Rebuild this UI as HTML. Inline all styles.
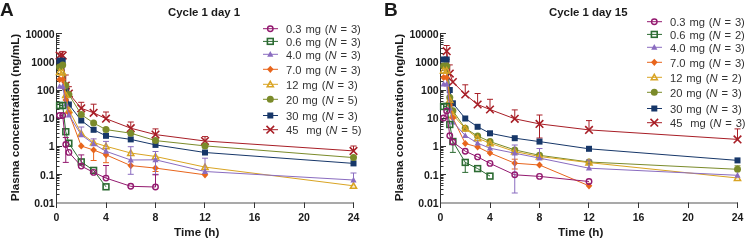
<!DOCTYPE html>
<html><head><meta charset="utf-8"><style>html,body{margin:0;padding:0;background:#fff;width:745px;height:241px;overflow:hidden}</style></head>
<body><svg width="745" height="241" viewBox="0 0 745 241" style="will-change:transform;font-family:'Liberation Sans',sans-serif;display:block"><rect width="745" height="241" fill="#fff"/><g fill="#1a1a1a"><text x="0" y="15.8" style="font-weight:bold;font-size:19px">A</text><text x="384" y="15.8" style="font-weight:bold;font-size:19px">B</text><path d="M56.5,33 V208" stroke="#333" stroke-width="1" fill="none"/><path d="M56.5,203 H354.00" stroke="#555" stroke-width="1.2" fill="none"/><path d="M56.5,194.50 H59.5" stroke="#333" stroke-width="1"/><path d="M56.5,189.50 H59.5" stroke="#333" stroke-width="1"/><path d="M56.5,185.50 H59.5" stroke="#333" stroke-width="1"/><path d="M56.5,183.50 H59.5" stroke="#333" stroke-width="1"/><path d="M56.5,180.50 H59.5" stroke="#333" stroke-width="1"/><path d="M56.5,178.50 H59.5" stroke="#333" stroke-width="1"/><path d="M56.5,177.50 H59.5" stroke="#333" stroke-width="1"/><path d="M56.5,175.50 H59.5" stroke="#333" stroke-width="1"/><text x="54.6" y="206.80" text-anchor="end" style="font-weight:bold;font-size:10.5px">0.01</text><path d="M56.5,174.50 H62.0" stroke="#333" stroke-width="1"/><path d="M56.5,166.50 H59.5" stroke="#333" stroke-width="1"/><path d="M56.5,161.50 H59.5" stroke="#333" stroke-width="1"/><path d="M56.5,157.50 H59.5" stroke="#333" stroke-width="1"/><path d="M56.5,154.50 H59.5" stroke="#333" stroke-width="1"/><path d="M56.5,152.50 H59.5" stroke="#333" stroke-width="1"/><path d="M56.5,150.50 H59.5" stroke="#333" stroke-width="1"/><path d="M56.5,149.50 H59.5" stroke="#333" stroke-width="1"/><path d="M56.5,147.50 H59.5" stroke="#333" stroke-width="1"/><text x="54.6" y="178.63" text-anchor="end" style="font-weight:bold;font-size:10.5px">0.1</text><path d="M56.5,146.50 H62.0" stroke="#333" stroke-width="1"/><path d="M56.5,137.50 H59.5" stroke="#333" stroke-width="1"/><path d="M56.5,133.50 H59.5" stroke="#333" stroke-width="1"/><path d="M56.5,129.50 H59.5" stroke="#333" stroke-width="1"/><path d="M56.5,126.50 H59.5" stroke="#333" stroke-width="1"/><path d="M56.5,124.50 H59.5" stroke="#333" stroke-width="1"/><path d="M56.5,122.50 H59.5" stroke="#333" stroke-width="1"/><path d="M56.5,121.50 H59.5" stroke="#333" stroke-width="1"/><path d="M56.5,119.50 H59.5" stroke="#333" stroke-width="1"/><text x="54.6" y="150.46" text-anchor="end" style="font-weight:bold;font-size:10.5px">1</text><path d="M56.5,118.50 H62.0" stroke="#333" stroke-width="1"/><path d="M56.5,109.50 H59.5" stroke="#333" stroke-width="1"/><path d="M56.5,104.50 H59.5" stroke="#333" stroke-width="1"/><path d="M56.5,101.50 H59.5" stroke="#333" stroke-width="1"/><path d="M56.5,98.50 H59.5" stroke="#333" stroke-width="1"/><path d="M56.5,96.50 H59.5" stroke="#333" stroke-width="1"/><path d="M56.5,94.50 H59.5" stroke="#333" stroke-width="1"/><path d="M56.5,92.50 H59.5" stroke="#333" stroke-width="1"/><path d="M56.5,91.50 H59.5" stroke="#333" stroke-width="1"/><text x="54.6" y="122.29" text-anchor="end" style="font-weight:bold;font-size:10.5px">10</text><path d="M56.5,90.50 H62.0" stroke="#333" stroke-width="1"/><path d="M56.5,81.50 H59.5" stroke="#333" stroke-width="1"/><path d="M56.5,76.50 H59.5" stroke="#333" stroke-width="1"/><path d="M56.5,73.50 H59.5" stroke="#333" stroke-width="1"/><path d="M56.5,70.50 H59.5" stroke="#333" stroke-width="1"/><path d="M56.5,68.50 H59.5" stroke="#333" stroke-width="1"/><path d="M56.5,66.50 H59.5" stroke="#333" stroke-width="1"/><path d="M56.5,64.50 H59.5" stroke="#333" stroke-width="1"/><path d="M56.5,63.50 H59.5" stroke="#333" stroke-width="1"/><text x="54.6" y="94.12" text-anchor="end" style="font-weight:bold;font-size:10.5px">100</text><path d="M56.5,61.50 H62.0" stroke="#333" stroke-width="1"/><path d="M56.5,53.50 H59.5" stroke="#333" stroke-width="1"/><path d="M56.5,48.50 H59.5" stroke="#333" stroke-width="1"/><path d="M56.5,44.50 H59.5" stroke="#333" stroke-width="1"/><path d="M56.5,42.50 H59.5" stroke="#333" stroke-width="1"/><path d="M56.5,40.50 H59.5" stroke="#333" stroke-width="1"/><path d="M56.5,38.50 H59.5" stroke="#333" stroke-width="1"/><path d="M56.5,36.50 H59.5" stroke="#333" stroke-width="1"/><path d="M56.5,35.50 H59.5" stroke="#333" stroke-width="1"/><text x="54.6" y="65.95" text-anchor="end" style="font-weight:bold;font-size:10.5px">1000</text><path d="M56.5,33.50 H62.0" stroke="#333" stroke-width="1"/><text x="54.6" y="37.78" text-anchor="end" style="font-weight:bold;font-size:10.5px">10000</text><path d="M56.50,202.5 V208" stroke="#333" stroke-width="1"/><text x="56.50" y="220.8" text-anchor="middle" style="font-weight:bold;font-size:10.5px">0</text><path d="M106.50,202.5 V208" stroke="#333" stroke-width="1"/><text x="106.00" y="220.8" text-anchor="middle" style="font-weight:bold;font-size:10.5px">4</text><path d="M155.50,202.5 V208" stroke="#333" stroke-width="1"/><text x="155.50" y="220.8" text-anchor="middle" style="font-weight:bold;font-size:10.5px">8</text><path d="M204.50,202.5 V208" stroke="#333" stroke-width="1"/><text x="205.00" y="220.8" text-anchor="middle" style="font-weight:bold;font-size:10.5px">12</text><path d="M254.50,202.5 V208" stroke="#333" stroke-width="1"/><text x="254.50" y="220.8" text-anchor="middle" style="font-weight:bold;font-size:10.5px">16</text><path d="M304.50,202.5 V208" stroke="#333" stroke-width="1"/><text x="304.00" y="220.8" text-anchor="middle" style="font-weight:bold;font-size:10.5px">20</text><path d="M353.50,202.5 V208" stroke="#333" stroke-width="1"/><text x="353.50" y="220.8" text-anchor="middle" style="font-weight:bold;font-size:10.5px">24</text><text x="196.7" y="236.3" text-anchor="middle" style="font-weight:bold;font-size:11.7px">Time (h)</text><text transform="translate(19.0,117.6) rotate(-90)" text-anchor="middle" style="font-weight:bold;font-size:11.7px">Plasma concentration (ng/mL)</text><text x="168" y="15.6" style="font-weight:bold;font-size:11.4px">Cycle 1 day 1</text><path d="M440.5,33 V208" stroke="#333" stroke-width="1" fill="none"/><path d="M440.5,203 H738.00" stroke="#555" stroke-width="1.2" fill="none"/><path d="M440.5,194.50 H443.5" stroke="#333" stroke-width="1"/><path d="M440.5,189.50 H443.5" stroke="#333" stroke-width="1"/><path d="M440.5,185.50 H443.5" stroke="#333" stroke-width="1"/><path d="M440.5,183.50 H443.5" stroke="#333" stroke-width="1"/><path d="M440.5,180.50 H443.5" stroke="#333" stroke-width="1"/><path d="M440.5,178.50 H443.5" stroke="#333" stroke-width="1"/><path d="M440.5,177.50 H443.5" stroke="#333" stroke-width="1"/><path d="M440.5,175.50 H443.5" stroke="#333" stroke-width="1"/><text x="438.6" y="206.80" text-anchor="end" style="font-weight:bold;font-size:10.5px">0.01</text><path d="M440.5,174.50 H446.0" stroke="#333" stroke-width="1"/><path d="M440.5,166.50 H443.5" stroke="#333" stroke-width="1"/><path d="M440.5,161.50 H443.5" stroke="#333" stroke-width="1"/><path d="M440.5,157.50 H443.5" stroke="#333" stroke-width="1"/><path d="M440.5,154.50 H443.5" stroke="#333" stroke-width="1"/><path d="M440.5,152.50 H443.5" stroke="#333" stroke-width="1"/><path d="M440.5,150.50 H443.5" stroke="#333" stroke-width="1"/><path d="M440.5,149.50 H443.5" stroke="#333" stroke-width="1"/><path d="M440.5,147.50 H443.5" stroke="#333" stroke-width="1"/><text x="438.6" y="178.63" text-anchor="end" style="font-weight:bold;font-size:10.5px">0.1</text><path d="M440.5,146.50 H446.0" stroke="#333" stroke-width="1"/><path d="M440.5,137.50 H443.5" stroke="#333" stroke-width="1"/><path d="M440.5,133.50 H443.5" stroke="#333" stroke-width="1"/><path d="M440.5,129.50 H443.5" stroke="#333" stroke-width="1"/><path d="M440.5,126.50 H443.5" stroke="#333" stroke-width="1"/><path d="M440.5,124.50 H443.5" stroke="#333" stroke-width="1"/><path d="M440.5,122.50 H443.5" stroke="#333" stroke-width="1"/><path d="M440.5,121.50 H443.5" stroke="#333" stroke-width="1"/><path d="M440.5,119.50 H443.5" stroke="#333" stroke-width="1"/><text x="438.6" y="150.46" text-anchor="end" style="font-weight:bold;font-size:10.5px">1</text><path d="M440.5,118.50 H446.0" stroke="#333" stroke-width="1"/><path d="M440.5,109.50 H443.5" stroke="#333" stroke-width="1"/><path d="M440.5,104.50 H443.5" stroke="#333" stroke-width="1"/><path d="M440.5,101.50 H443.5" stroke="#333" stroke-width="1"/><path d="M440.5,98.50 H443.5" stroke="#333" stroke-width="1"/><path d="M440.5,96.50 H443.5" stroke="#333" stroke-width="1"/><path d="M440.5,94.50 H443.5" stroke="#333" stroke-width="1"/><path d="M440.5,92.50 H443.5" stroke="#333" stroke-width="1"/><path d="M440.5,91.50 H443.5" stroke="#333" stroke-width="1"/><text x="438.6" y="122.29" text-anchor="end" style="font-weight:bold;font-size:10.5px">10</text><path d="M440.5,90.50 H446.0" stroke="#333" stroke-width="1"/><path d="M440.5,81.50 H443.5" stroke="#333" stroke-width="1"/><path d="M440.5,76.50 H443.5" stroke="#333" stroke-width="1"/><path d="M440.5,73.50 H443.5" stroke="#333" stroke-width="1"/><path d="M440.5,70.50 H443.5" stroke="#333" stroke-width="1"/><path d="M440.5,68.50 H443.5" stroke="#333" stroke-width="1"/><path d="M440.5,66.50 H443.5" stroke="#333" stroke-width="1"/><path d="M440.5,64.50 H443.5" stroke="#333" stroke-width="1"/><path d="M440.5,63.50 H443.5" stroke="#333" stroke-width="1"/><text x="438.6" y="94.12" text-anchor="end" style="font-weight:bold;font-size:10.5px">100</text><path d="M440.5,61.50 H446.0" stroke="#333" stroke-width="1"/><path d="M440.5,53.50 H443.5" stroke="#333" stroke-width="1"/><path d="M440.5,48.50 H443.5" stroke="#333" stroke-width="1"/><path d="M440.5,44.50 H443.5" stroke="#333" stroke-width="1"/><path d="M440.5,42.50 H443.5" stroke="#333" stroke-width="1"/><path d="M440.5,40.50 H443.5" stroke="#333" stroke-width="1"/><path d="M440.5,38.50 H443.5" stroke="#333" stroke-width="1"/><path d="M440.5,36.50 H443.5" stroke="#333" stroke-width="1"/><path d="M440.5,35.50 H443.5" stroke="#333" stroke-width="1"/><text x="438.6" y="65.95" text-anchor="end" style="font-weight:bold;font-size:10.5px">1000</text><path d="M440.5,33.50 H446.0" stroke="#333" stroke-width="1"/><text x="438.6" y="37.78" text-anchor="end" style="font-weight:bold;font-size:10.5px">10000</text><path d="M440.50,202.5 V208" stroke="#333" stroke-width="1"/><text x="440.50" y="220.8" text-anchor="middle" style="font-weight:bold;font-size:10.5px">0</text><path d="M490.50,202.5 V208" stroke="#333" stroke-width="1"/><text x="490.00" y="220.8" text-anchor="middle" style="font-weight:bold;font-size:10.5px">4</text><path d="M539.50,202.5 V208" stroke="#333" stroke-width="1"/><text x="539.50" y="220.8" text-anchor="middle" style="font-weight:bold;font-size:10.5px">8</text><path d="M588.50,202.5 V208" stroke="#333" stroke-width="1"/><text x="589.00" y="220.8" text-anchor="middle" style="font-weight:bold;font-size:10.5px">12</text><path d="M638.50,202.5 V208" stroke="#333" stroke-width="1"/><text x="638.50" y="220.8" text-anchor="middle" style="font-weight:bold;font-size:10.5px">16</text><path d="M688.50,202.5 V208" stroke="#333" stroke-width="1"/><text x="688.00" y="220.8" text-anchor="middle" style="font-weight:bold;font-size:10.5px">20</text><path d="M737.50,202.5 V208" stroke="#333" stroke-width="1"/><text x="737.50" y="220.8" text-anchor="middle" style="font-weight:bold;font-size:10.5px">24</text><text x="580.7" y="236.3" text-anchor="middle" style="font-weight:bold;font-size:11.7px">Time (h)</text><text transform="translate(403.0,117.6) rotate(-90)" text-anchor="middle" style="font-weight:bold;font-size:11.7px">Plasma concentration (ng/mL)</text><text x="549" y="15.6" style="font-weight:bold;font-size:11.4px">Cycle 1 day 15</text></g><path d="M59.59,55.60 L62.69,55.60 L65.78,85.50 L68.88,93.50 L81.25,108.30 L93.62,112.80 L106.00,118.70 L130.75,128.20 L155.50,134.60 L205.00,141.00 L353.50,150.90" stroke="#a81e26" stroke-width="1" fill="none"/><path d="M62.69,55.60 V51.40 M59.69,51.40 H65.69" stroke="#a81e26" stroke-width="1" fill="none"/><path d="M65.78,85.50 V75.00 M62.78,75.00 H68.78" stroke="#a81e26" stroke-width="1" fill="none"/><path d="M68.88,93.50 V86.70 M65.88,86.70 H71.88" stroke="#a81e26" stroke-width="1" fill="none"/><path d="M81.25,108.30 V102.30 M78.25,102.30 H84.25" stroke="#a81e26" stroke-width="1" fill="none"/><path d="M93.62,112.80 V104.20 M90.62,104.20 H96.62" stroke="#a81e26" stroke-width="1" fill="none"/><path d="M106.00,118.70 V112.00 M103.00,112.00 H109.00" stroke="#a81e26" stroke-width="1" fill="none"/><path d="M130.75,128.20 V122.00 M127.75,122.00 H133.75" stroke="#a81e26" stroke-width="1" fill="none"/><path d="M155.50,134.60 V128.90 M152.50,128.90 H158.50" stroke="#a81e26" stroke-width="1" fill="none"/><path d="M205.00,141.00 V136.60 M202.00,136.60 H208.00" stroke="#a81e26" stroke-width="1" fill="none"/><path d="M353.50,150.90 V146.00 M350.50,146.00 H356.50" stroke="#a81e26" stroke-width="1" fill="none"/><path d="M55.79,51.80L63.39,59.40M63.39,51.80L55.79,59.40" stroke="#a81e26" stroke-width="1.6" fill="none"/><path d="M58.89,51.80L66.49,59.40M66.49,51.80L58.89,59.40" stroke="#a81e26" stroke-width="1.6" fill="none"/><path d="M61.98,81.70L69.58,89.30M69.58,81.70L61.98,89.30" stroke="#a81e26" stroke-width="1.6" fill="none"/><path d="M65.08,89.70L72.67,97.30M72.67,89.70L65.08,97.30" stroke="#a81e26" stroke-width="1.6" fill="none"/><path d="M77.45,104.50L85.05,112.10M85.05,104.50L77.45,112.10" stroke="#a81e26" stroke-width="1.6" fill="none"/><path d="M89.83,109.00L97.42,116.60M97.42,109.00L89.83,116.60" stroke="#a81e26" stroke-width="1.6" fill="none"/><path d="M102.20,114.90L109.80,122.50M109.80,114.90L102.20,122.50" stroke="#a81e26" stroke-width="1.6" fill="none"/><path d="M126.95,124.40L134.55,132.00M134.55,124.40L126.95,132.00" stroke="#a81e26" stroke-width="1.6" fill="none"/><path d="M151.70,130.80L159.30,138.40M159.30,130.80L151.70,138.40" stroke="#a81e26" stroke-width="1.6" fill="none"/><path d="M201.20,137.20L208.80,144.80M208.80,137.20L201.20,144.80" stroke="#a81e26" stroke-width="1.6" fill="none"/><path d="M349.70,147.10L357.30,154.70M357.30,147.10L349.70,154.70" stroke="#a81e26" stroke-width="1.6" fill="none"/><path d="M59.59,60.70 L62.69,60.70 L65.78,88.00 L68.88,104.50 L81.25,120.50 L93.62,129.80 L106.00,135.80 L130.75,139.40 L155.50,144.90 L205.00,152.50 L353.50,163.40" stroke="#173769" stroke-width="1" fill="none"/><rect x="56.59" y="57.70" width="6" height="6" fill="#173769"/><rect x="59.69" y="57.70" width="6" height="6" fill="#173769"/><rect x="62.78" y="85.00" width="6" height="6" fill="#173769"/><rect x="65.88" y="101.50" width="6" height="6" fill="#173769"/><rect x="78.25" y="117.50" width="6" height="6" fill="#173769"/><rect x="90.62" y="126.80" width="6" height="6" fill="#173769"/><rect x="103.00" y="132.80" width="6" height="6" fill="#173769"/><rect x="127.75" y="136.40" width="6" height="6" fill="#173769"/><rect x="152.50" y="141.90" width="6" height="6" fill="#173769"/><rect x="202.00" y="149.50" width="6" height="6" fill="#173769"/><rect x="350.50" y="160.40" width="6" height="6" fill="#173769"/><path d="M59.59,67.00 L62.69,65.00 L65.78,85.60 L68.88,94.50 L81.25,114.50 L93.62,123.00 L106.00,129.60 L130.75,133.20 L155.50,140.60 L205.00,145.90 L353.50,157.60" stroke="#7b8b2a" stroke-width="1" fill="none"/><circle cx="59.59" cy="67.00" r="3.5" fill="#7b8b2a"/><circle cx="62.69" cy="65.00" r="3.5" fill="#7b8b2a"/><circle cx="65.78" cy="85.60" r="3.5" fill="#7b8b2a"/><circle cx="68.88" cy="94.50" r="3.5" fill="#7b8b2a"/><circle cx="81.25" cy="114.50" r="3.5" fill="#7b8b2a"/><circle cx="93.62" cy="123.00" r="3.5" fill="#7b8b2a"/><circle cx="106.00" cy="129.60" r="3.5" fill="#7b8b2a"/><circle cx="130.75" cy="133.20" r="3.5" fill="#7b8b2a"/><circle cx="155.50" cy="140.60" r="3.5" fill="#7b8b2a"/><circle cx="205.00" cy="145.90" r="3.5" fill="#7b8b2a"/><circle cx="353.50" cy="157.60" r="3.5" fill="#7b8b2a"/><path d="M59.59,72.00 L62.69,72.50 L65.78,95.00 L68.88,110.00 L81.25,133.50 L93.62,142.50 L106.00,146.30 L130.75,153.00 L155.50,156.50 L205.00,167.10 L353.50,185.80" stroke="#d9a423" stroke-width="1" fill="none"/><path d="M59.59,69.00L62.69,74.50L56.49,74.50Z" fill="none" stroke="#d9a423" stroke-width="1.5" stroke-linejoin="miter"/><path d="M62.69,69.50L65.79,75.00L59.59,75.00Z" fill="none" stroke="#d9a423" stroke-width="1.5" stroke-linejoin="miter"/><path d="M65.78,92.00L68.88,97.50L62.68,97.50Z" fill="none" stroke="#d9a423" stroke-width="1.5" stroke-linejoin="miter"/><path d="M68.88,107.00L71.97,112.50L65.78,112.50Z" fill="none" stroke="#d9a423" stroke-width="1.5" stroke-linejoin="miter"/><path d="M81.25,130.50L84.35,136.00L78.15,136.00Z" fill="none" stroke="#d9a423" stroke-width="1.5" stroke-linejoin="miter"/><path d="M93.62,139.50L96.72,145.00L90.53,145.00Z" fill="none" stroke="#d9a423" stroke-width="1.5" stroke-linejoin="miter"/><path d="M106.00,143.30L109.10,148.80L102.90,148.80Z" fill="none" stroke="#d9a423" stroke-width="1.5" stroke-linejoin="miter"/><path d="M130.75,150.00L133.85,155.50L127.65,155.50Z" fill="none" stroke="#d9a423" stroke-width="1.5" stroke-linejoin="miter"/><path d="M155.50,153.50L158.60,159.00L152.40,159.00Z" fill="none" stroke="#d9a423" stroke-width="1.5" stroke-linejoin="miter"/><path d="M205.00,164.10L208.10,169.60L201.90,169.60Z" fill="none" stroke="#d9a423" stroke-width="1.5" stroke-linejoin="miter"/><path d="M353.50,182.80L356.60,188.30L350.40,188.30Z" fill="none" stroke="#d9a423" stroke-width="1.5" stroke-linejoin="miter"/><path d="M59.59,79.50 L62.69,79.50 L65.78,100.00 L68.88,113.00 L81.25,146.00 L93.62,150.00 L106.00,154.80 L130.75,165.60 L155.50,168.10 L205.00,174.80" stroke="#e8651c" stroke-width="1" fill="none"/><path d="M93.62,150.00 V160.50 M90.62,160.50 H96.62" stroke="#e8651c" stroke-width="1" fill="none"/><path d="M106.00,154.80 V162.70 M103.00,162.70 H109.00" stroke="#e8651c" stroke-width="1" fill="none"/><path d="M155.50,168.10 V171.50 M152.50,171.50 H158.50" stroke="#e8651c" stroke-width="1" fill="none"/><path d="M59.59,75.90L62.89,79.50L59.59,83.10L56.29,79.50Z" fill="#e8651c"/><path d="M62.69,75.90L65.99,79.50L62.69,83.10L59.39,79.50Z" fill="#e8651c"/><path d="M65.78,96.40L69.08,100.00L65.78,103.60L62.48,100.00Z" fill="#e8651c"/><path d="M68.88,109.40L72.17,113.00L68.88,116.60L65.58,113.00Z" fill="#e8651c"/><path d="M81.25,142.40L84.55,146.00L81.25,149.60L77.95,146.00Z" fill="#e8651c"/><path d="M93.62,146.40L96.92,150.00L93.62,153.60L90.33,150.00Z" fill="#e8651c"/><path d="M106.00,151.20L109.30,154.80L106.00,158.40L102.70,154.80Z" fill="#e8651c"/><path d="M130.75,162.00L134.05,165.60L130.75,169.20L127.45,165.60Z" fill="#e8651c"/><path d="M155.50,164.50L158.80,168.10L155.50,171.70L152.20,168.10Z" fill="#e8651c"/><path d="M205.00,171.20L208.30,174.80L205.00,178.40L201.70,174.80Z" fill="#e8651c"/><path d="M59.59,86.40 L62.69,86.40 L65.78,104.00 L68.88,115.00 L81.25,134.90 L93.62,143.90 L106.00,151.30 L130.75,160.00 L155.50,159.80 L205.00,171.50 L353.50,180.00" stroke="#8a6cc0" stroke-width="1" fill="none"/><path d="M81.25,134.90 V127.00 M78.25,127.00 H84.25" stroke="#8a6cc0" stroke-width="1" fill="none"/><path d="M93.62,143.90 V138.90 M90.62,138.90 H96.62" stroke="#8a6cc0" stroke-width="1" fill="none"/><path d="M106.00,151.30 V141.40 M103.00,141.40 H109.00" stroke="#8a6cc0" stroke-width="1" fill="none"/><path d="M130.75,160.00 V146.70 M127.75,146.70 H133.75" stroke="#8a6cc0" stroke-width="1" fill="none"/><path d="M130.75,160.00 V174.30 M127.75,174.30 H133.75" stroke="#8a6cc0" stroke-width="1" fill="none"/><path d="M155.50,159.80 V151.50 M152.50,151.50 H158.50" stroke="#8a6cc0" stroke-width="1" fill="none"/><path d="M155.50,159.80 V174.30 M152.50,174.30 H158.50" stroke="#8a6cc0" stroke-width="1" fill="none"/><path d="M205.00,171.50 V158.20 M202.00,158.20 H208.00" stroke="#8a6cc0" stroke-width="1" fill="none"/><path d="M353.50,180.00 V173.00 M350.50,173.00 H356.50" stroke="#8a6cc0" stroke-width="1" fill="none"/><path d="M59.59,83.20L62.69,88.80L56.49,88.80Z" fill="#8a6cc0"/><path d="M62.69,83.20L65.79,88.80L59.59,88.80Z" fill="#8a6cc0"/><path d="M65.78,100.80L68.88,106.40L62.68,106.40Z" fill="#8a6cc0"/><path d="M68.88,111.80L71.97,117.40L65.78,117.40Z" fill="#8a6cc0"/><path d="M81.25,131.70L84.35,137.30L78.15,137.30Z" fill="#8a6cc0"/><path d="M93.62,140.70L96.72,146.30L90.53,146.30Z" fill="#8a6cc0"/><path d="M106.00,148.10L109.10,153.70L102.90,153.70Z" fill="#8a6cc0"/><path d="M130.75,156.80L133.85,162.40L127.65,162.40Z" fill="#8a6cc0"/><path d="M155.50,156.60L158.60,162.20L152.40,162.20Z" fill="#8a6cc0"/><path d="M205.00,168.30L208.10,173.90L201.90,173.90Z" fill="#8a6cc0"/><path d="M353.50,176.80L356.60,182.40L350.40,182.40Z" fill="#8a6cc0"/><path d="M59.59,105.50 L62.69,105.50 L65.78,131.70 L68.88,143.30 L81.25,161.90 L93.62,170.40 L106.00,186.80" stroke="#2c6b32" stroke-width="1" fill="none"/><rect x="56.69" y="102.60" width="5.8" height="5.8" fill="none" stroke="#2c6b32" stroke-width="1.6"/><rect x="59.79" y="102.60" width="5.8" height="5.8" fill="none" stroke="#2c6b32" stroke-width="1.6"/><rect x="62.88" y="128.80" width="5.8" height="5.8" fill="none" stroke="#2c6b32" stroke-width="1.6"/><rect x="65.97" y="140.40" width="5.8" height="5.8" fill="none" stroke="#2c6b32" stroke-width="1.6"/><rect x="78.35" y="159.00" width="5.8" height="5.8" fill="none" stroke="#2c6b32" stroke-width="1.6"/><rect x="90.72" y="167.50" width="5.8" height="5.8" fill="none" stroke="#2c6b32" stroke-width="1.6"/><rect x="103.10" y="183.90" width="5.8" height="5.8" fill="none" stroke="#2c6b32" stroke-width="1.6"/><path d="M59.59,115.50 L62.69,115.50 L65.78,144.50 L68.88,152.40 L81.25,166.10 L93.62,172.40 L106.00,178.10 L130.75,186.30 L155.50,187.00" stroke="#93196f" stroke-width="1" fill="none"/><path d="M65.78,144.50 V137.50 M62.78,137.50 H68.78" stroke="#93196f" stroke-width="1" fill="none"/><path d="M65.78,144.50 V162.40 M62.78,162.40 H68.78" stroke="#93196f" stroke-width="1" fill="none"/><path d="M81.25,166.10 V154.90 M78.25,154.90 H84.25" stroke="#93196f" stroke-width="1" fill="none"/><path d="M106.00,178.10 V165.50 M103.00,165.50 H109.00" stroke="#93196f" stroke-width="1" fill="none"/><path d="M155.50,187.00 V174.80 M152.50,174.80 H158.50" stroke="#93196f" stroke-width="1" fill="none"/><circle cx="59.59" cy="115.50" r="2.75" fill="none" stroke="#93196f" stroke-width="1.4"/><circle cx="62.69" cy="115.50" r="2.75" fill="none" stroke="#93196f" stroke-width="1.4"/><circle cx="65.78" cy="144.50" r="2.75" fill="none" stroke="#93196f" stroke-width="1.4"/><circle cx="68.88" cy="152.40" r="2.75" fill="none" stroke="#93196f" stroke-width="1.4"/><circle cx="81.25" cy="166.10" r="2.75" fill="none" stroke="#93196f" stroke-width="1.4"/><circle cx="93.62" cy="172.40" r="2.75" fill="none" stroke="#93196f" stroke-width="1.4"/><circle cx="106.00" cy="178.10" r="2.75" fill="none" stroke="#93196f" stroke-width="1.4"/><circle cx="130.75" cy="186.30" r="2.75" fill="none" stroke="#93196f" stroke-width="1.4"/><circle cx="155.50" cy="187.00" r="2.75" fill="none" stroke="#93196f" stroke-width="1.4"/><path d="M446.69,51.20 L449.78,73.60 L452.88,82.00 L465.25,94.50 L477.62,104.50 L490.00,109.50 L514.75,118.80 L539.50,123.90 L589.00,129.90 L737.50,139.40" stroke="#a81e26" stroke-width="1" fill="none"/><path d="M446.69,51.20 V45.50 M443.69,45.50 H449.69" stroke="#a81e26" stroke-width="1" fill="none"/><path d="M446.69,51.20 V59.30 M443.69,59.30 H449.69" stroke="#a81e26" stroke-width="1" fill="none"/><path d="M449.78,73.60 V64.90 M446.78,64.90 H452.78" stroke="#a81e26" stroke-width="1" fill="none"/><path d="M465.25,94.50 V84.80 M462.25,84.80 H468.25" stroke="#a81e26" stroke-width="1" fill="none"/><path d="M477.62,104.50 V93.50 M474.62,93.50 H480.62" stroke="#a81e26" stroke-width="1" fill="none"/><path d="M490.00,109.50 V99.30 M487.00,99.30 H493.00" stroke="#a81e26" stroke-width="1" fill="none"/><path d="M514.75,118.80 V109.90 M511.75,109.90 H517.75" stroke="#a81e26" stroke-width="1" fill="none"/><path d="M539.50,123.90 V115.00 M536.50,115.00 H542.50" stroke="#a81e26" stroke-width="1" fill="none"/><path d="M539.50,123.90 V138.00 M536.50,138.00 H542.50" stroke="#a81e26" stroke-width="1" fill="none"/><path d="M589.00,129.90 V120.60 M586.00,120.60 H592.00" stroke="#a81e26" stroke-width="1" fill="none"/><path d="M737.50,139.40 V128.90 M734.50,128.90 H740.50" stroke="#a81e26" stroke-width="1" fill="none"/><path d="M442.89,47.40L450.49,55.00M450.49,47.40L442.89,55.00" stroke="#a81e26" stroke-width="1.6" fill="none"/><path d="M445.98,69.80L453.58,77.40M453.58,69.80L445.98,77.40" stroke="#a81e26" stroke-width="1.6" fill="none"/><path d="M449.07,78.20L456.68,85.80M456.68,78.20L449.07,85.80" stroke="#a81e26" stroke-width="1.6" fill="none"/><path d="M461.45,90.70L469.05,98.30M469.05,90.70L461.45,98.30" stroke="#a81e26" stroke-width="1.6" fill="none"/><path d="M473.82,100.70L481.43,108.30M481.43,100.70L473.82,108.30" stroke="#a81e26" stroke-width="1.6" fill="none"/><path d="M486.20,105.70L493.80,113.30M493.80,105.70L486.20,113.30" stroke="#a81e26" stroke-width="1.6" fill="none"/><path d="M510.95,115.00L518.55,122.60M518.55,115.00L510.95,122.60" stroke="#a81e26" stroke-width="1.6" fill="none"/><path d="M535.70,120.10L543.30,127.70M543.30,120.10L535.70,127.70" stroke="#a81e26" stroke-width="1.6" fill="none"/><path d="M585.20,126.10L592.80,133.70M592.80,126.10L585.20,133.70" stroke="#a81e26" stroke-width="1.6" fill="none"/><path d="M733.70,135.60L741.30,143.20M741.30,135.60L733.70,143.20" stroke="#a81e26" stroke-width="1.6" fill="none"/><path d="M443.59,59.50 L446.69,59.50 L449.78,90.00 L452.88,103.30 L465.25,118.50 L477.62,126.80 L490.00,133.30 L514.75,138.20 L539.50,141.60 L589.00,148.80 L737.50,160.40" stroke="#173769" stroke-width="1" fill="none"/><rect x="440.59" y="56.50" width="6" height="6" fill="#173769"/><rect x="443.69" y="56.50" width="6" height="6" fill="#173769"/><rect x="446.78" y="87.00" width="6" height="6" fill="#173769"/><rect x="449.88" y="100.30" width="6" height="6" fill="#173769"/><rect x="462.25" y="115.50" width="6" height="6" fill="#173769"/><rect x="474.62" y="123.80" width="6" height="6" fill="#173769"/><rect x="487.00" y="130.30" width="6" height="6" fill="#173769"/><rect x="511.75" y="135.20" width="6" height="6" fill="#173769"/><rect x="536.50" y="138.60" width="6" height="6" fill="#173769"/><rect x="586.00" y="145.80" width="6" height="6" fill="#173769"/><rect x="734.50" y="157.40" width="6" height="6" fill="#173769"/><path d="M443.59,66.00 L446.69,66.00 L449.78,97.50 L452.88,110.80 L465.25,128.30 L477.62,136.00 L490.00,141.60 L514.75,149.90 L539.50,155.30 L589.00,162.00 L737.50,169.30" stroke="#7b8b2a" stroke-width="1" fill="none"/><path d="M737.50,169.30 V165.80 M734.50,165.80 H740.50" stroke="#7b8b2a" stroke-width="1" fill="none"/><circle cx="443.59" cy="66.00" r="3.5" fill="#7b8b2a"/><circle cx="446.69" cy="66.00" r="3.5" fill="#7b8b2a"/><circle cx="449.78" cy="97.50" r="3.5" fill="#7b8b2a"/><circle cx="452.88" cy="110.80" r="3.5" fill="#7b8b2a"/><circle cx="465.25" cy="128.30" r="3.5" fill="#7b8b2a"/><circle cx="477.62" cy="136.00" r="3.5" fill="#7b8b2a"/><circle cx="490.00" cy="141.60" r="3.5" fill="#7b8b2a"/><circle cx="514.75" cy="149.90" r="3.5" fill="#7b8b2a"/><circle cx="539.50" cy="155.30" r="3.5" fill="#7b8b2a"/><circle cx="589.00" cy="162.00" r="3.5" fill="#7b8b2a"/><circle cx="737.50" cy="169.30" r="3.5" fill="#7b8b2a"/><path d="M443.59,70.50 L446.69,70.50 L449.78,100.00 L452.88,115.00 L465.25,128.50 L477.62,138.20 L490.00,143.20 L514.75,151.50 L539.50,156.50 L589.00,162.60 L737.50,178.00" stroke="#d9a423" stroke-width="1" fill="none"/><path d="M443.59,67.50L446.69,73.00L440.49,73.00Z" fill="none" stroke="#d9a423" stroke-width="1.5" stroke-linejoin="miter"/><path d="M446.69,67.50L449.79,73.00L443.59,73.00Z" fill="none" stroke="#d9a423" stroke-width="1.5" stroke-linejoin="miter"/><path d="M449.78,97.00L452.88,102.50L446.68,102.50Z" fill="none" stroke="#d9a423" stroke-width="1.5" stroke-linejoin="miter"/><path d="M452.88,112.00L455.98,117.50L449.77,117.50Z" fill="none" stroke="#d9a423" stroke-width="1.5" stroke-linejoin="miter"/><path d="M465.25,125.50L468.35,131.00L462.15,131.00Z" fill="none" stroke="#d9a423" stroke-width="1.5" stroke-linejoin="miter"/><path d="M477.62,135.20L480.73,140.70L474.52,140.70Z" fill="none" stroke="#d9a423" stroke-width="1.5" stroke-linejoin="miter"/><path d="M490.00,140.20L493.10,145.70L486.90,145.70Z" fill="none" stroke="#d9a423" stroke-width="1.5" stroke-linejoin="miter"/><path d="M514.75,148.50L517.85,154.00L511.65,154.00Z" fill="none" stroke="#d9a423" stroke-width="1.5" stroke-linejoin="miter"/><path d="M539.50,153.50L542.60,159.00L536.40,159.00Z" fill="none" stroke="#d9a423" stroke-width="1.5" stroke-linejoin="miter"/><path d="M589.00,159.60L592.10,165.10L585.90,165.10Z" fill="none" stroke="#d9a423" stroke-width="1.5" stroke-linejoin="miter"/><path d="M737.50,175.00L740.60,180.50L734.40,180.50Z" fill="none" stroke="#d9a423" stroke-width="1.5" stroke-linejoin="miter"/><path d="M443.59,77.50 L446.69,77.50 L449.78,105.00 L452.88,118.00 L465.25,143.50 L477.62,147.00 L490.00,153.00 L514.75,163.20 L539.50,165.00 L589.00,185.80" stroke="#e8651c" stroke-width="1" fill="none"/><path d="M514.75,163.20 V159.20 M511.75,159.20 H517.75" stroke="#e8651c" stroke-width="1" fill="none"/><path d="M514.75,163.20 V169.00 M511.75,169.00 H517.75" stroke="#e8651c" stroke-width="1" fill="none"/><path d="M443.59,73.90L446.89,77.50L443.59,81.10L440.29,77.50Z" fill="#e8651c"/><path d="M446.69,73.90L449.99,77.50L446.69,81.10L443.39,77.50Z" fill="#e8651c"/><path d="M449.78,101.40L453.08,105.00L449.78,108.60L446.48,105.00Z" fill="#e8651c"/><path d="M452.88,114.40L456.18,118.00L452.88,121.60L449.57,118.00Z" fill="#e8651c"/><path d="M465.25,139.90L468.55,143.50L465.25,147.10L461.95,143.50Z" fill="#e8651c"/><path d="M477.62,143.40L480.93,147.00L477.62,150.60L474.32,147.00Z" fill="#e8651c"/><path d="M490.00,149.40L493.30,153.00L490.00,156.60L486.70,153.00Z" fill="#e8651c"/><path d="M514.75,159.60L518.05,163.20L514.75,166.80L511.45,163.20Z" fill="#e8651c"/><path d="M539.50,161.40L542.80,165.00L539.50,168.60L536.20,165.00Z" fill="#e8651c"/><path d="M589.00,182.20L592.30,185.80L589.00,189.40L585.70,185.80Z" fill="#e8651c"/><path d="M443.59,84.00 L446.69,84.00 L449.78,108.00 L452.88,122.00 L465.25,135.50 L477.62,143.20 L490.00,148.20 L514.75,153.20 L539.50,158.10 L589.00,168.20 L737.50,175.30" stroke="#8a6cc0" stroke-width="1" fill="none"/><path d="M514.75,153.20 V145.00 M511.75,145.00 H517.75" stroke="#8a6cc0" stroke-width="1" fill="none"/><path d="M514.75,153.20 V193.00 M511.75,193.00 H517.75" stroke="#8a6cc0" stroke-width="1" fill="none"/><path d="M539.50,158.10 V148.50 M536.50,148.50 H542.50" stroke="#8a6cc0" stroke-width="1" fill="none"/><path d="M589.00,168.20 V160.00 M586.00,160.00 H592.00" stroke="#8a6cc0" stroke-width="1" fill="none"/><path d="M443.59,80.80L446.69,86.40L440.49,86.40Z" fill="#8a6cc0"/><path d="M446.69,80.80L449.79,86.40L443.59,86.40Z" fill="#8a6cc0"/><path d="M449.78,104.80L452.88,110.40L446.68,110.40Z" fill="#8a6cc0"/><path d="M452.88,118.80L455.98,124.40L449.77,124.40Z" fill="#8a6cc0"/><path d="M465.25,132.30L468.35,137.90L462.15,137.90Z" fill="#8a6cc0"/><path d="M477.62,140.00L480.73,145.60L474.52,145.60Z" fill="#8a6cc0"/><path d="M490.00,145.00L493.10,150.60L486.90,150.60Z" fill="#8a6cc0"/><path d="M514.75,150.00L517.85,155.60L511.65,155.60Z" fill="#8a6cc0"/><path d="M539.50,154.90L542.60,160.50L536.40,160.50Z" fill="#8a6cc0"/><path d="M589.00,165.00L592.10,170.60L585.90,170.60Z" fill="#8a6cc0"/><path d="M737.50,172.10L740.60,177.70L734.40,177.70Z" fill="#8a6cc0"/><path d="M443.59,106.50 L446.69,106.50 L449.78,124.50 L452.88,141.50 L465.25,162.40 L477.62,168.60 L490.00,176.10" stroke="#2c6b32" stroke-width="1" fill="none"/><path d="M452.88,141.50 V152.40 M449.88,152.40 H455.88" stroke="#2c6b32" stroke-width="1" fill="none"/><path d="M465.25,162.40 V172.40 M462.25,172.40 H468.25" stroke="#2c6b32" stroke-width="1" fill="none"/><rect x="440.69" y="103.60" width="5.8" height="5.8" fill="none" stroke="#2c6b32" stroke-width="1.6"/><rect x="443.79" y="103.60" width="5.8" height="5.8" fill="none" stroke="#2c6b32" stroke-width="1.6"/><rect x="446.88" y="121.60" width="5.8" height="5.8" fill="none" stroke="#2c6b32" stroke-width="1.6"/><rect x="449.98" y="138.60" width="5.8" height="5.8" fill="none" stroke="#2c6b32" stroke-width="1.6"/><rect x="462.35" y="159.50" width="5.8" height="5.8" fill="none" stroke="#2c6b32" stroke-width="1.6"/><rect x="474.73" y="165.70" width="5.8" height="5.8" fill="none" stroke="#2c6b32" stroke-width="1.6"/><rect x="487.10" y="173.20" width="5.8" height="5.8" fill="none" stroke="#2c6b32" stroke-width="1.6"/><path d="M443.59,118.00 L446.69,111.00 L449.78,135.80 L452.88,142.00 L465.25,151.20 L477.62,156.90 L490.00,163.40 L514.75,174.80 L539.50,176.40 L589.00,181.50" stroke="#93196f" stroke-width="1" fill="none"/><circle cx="443.59" cy="118.00" r="2.75" fill="none" stroke="#93196f" stroke-width="1.4"/><circle cx="446.69" cy="111.00" r="2.75" fill="none" stroke="#93196f" stroke-width="1.4"/><circle cx="449.78" cy="135.80" r="2.75" fill="none" stroke="#93196f" stroke-width="1.4"/><circle cx="452.88" cy="142.00" r="2.75" fill="none" stroke="#93196f" stroke-width="1.4"/><circle cx="465.25" cy="151.20" r="2.75" fill="none" stroke="#93196f" stroke-width="1.4"/><circle cx="477.62" cy="156.90" r="2.75" fill="none" stroke="#93196f" stroke-width="1.4"/><circle cx="490.00" cy="163.40" r="2.75" fill="none" stroke="#93196f" stroke-width="1.4"/><circle cx="514.75" cy="174.80" r="2.75" fill="none" stroke="#93196f" stroke-width="1.4"/><circle cx="539.50" cy="176.40" r="2.75" fill="none" stroke="#93196f" stroke-width="1.4"/><circle cx="589.00" cy="181.50" r="2.75" fill="none" stroke="#93196f" stroke-width="1.4"/><path d="M263,28.7 H278" stroke="#93196f" stroke-width="1"/><circle cx="270.30" cy="28.70" r="2.75" fill="none" stroke="#93196f" stroke-width="1.4"/><text x="286" y="33" style="font-size:11.2px;fill:#333;white-space:pre;word-spacing:0.75px" xml:space="preserve">0.3 mg (<tspan font-style="italic">N</tspan> = 3)</text><path d="M263,41.4 H278" stroke="#2c6b32" stroke-width="1"/><rect x="267.40" y="38.50" width="5.8" height="5.8" fill="none" stroke="#2c6b32" stroke-width="1.6"/><text x="286" y="45.9" style="font-size:11.2px;fill:#333;white-space:pre;word-spacing:0.75px" xml:space="preserve">0.6 mg (<tspan font-style="italic">N</tspan> = 3)</text><path d="M263,54.3 H278" stroke="#8a6cc0" stroke-width="1"/><path d="M270.30,51.10L273.40,56.70L267.20,56.70Z" fill="#8a6cc0"/><text x="286" y="58.7" style="font-size:11.2px;fill:#333;white-space:pre;word-spacing:0.75px" xml:space="preserve">4.0 mg (<tspan font-style="italic">N</tspan> = 3)</text><path d="M263,69.3 H278" stroke="#e8651c" stroke-width="1"/><path d="M270.30,65.70L273.60,69.30L270.30,72.90L267.00,69.30Z" fill="#e8651c"/><text x="286" y="74" style="font-size:11.2px;fill:#333;white-space:pre;word-spacing:0.75px" xml:space="preserve">7.0 mg (<tspan font-style="italic">N</tspan> = 3)</text><path d="M263,84.3 H278" stroke="#d9a423" stroke-width="1"/><path d="M270.30,81.30L273.40,86.80L267.20,86.80Z" fill="none" stroke="#d9a423" stroke-width="1.5" stroke-linejoin="miter"/><text x="286" y="88.5" style="font-size:11.2px;fill:#333;white-space:pre;word-spacing:0.75px" xml:space="preserve">12 mg (<tspan font-style="italic">N</tspan> = 3)</text><path d="M263,99.3 H278" stroke="#7b8b2a" stroke-width="1"/><circle cx="270.30" cy="99.30" r="3.5" fill="#7b8b2a"/><text x="286" y="103.5" style="font-size:11.2px;fill:#333;white-space:pre;word-spacing:0.75px" xml:space="preserve">20 mg (<tspan font-style="italic">N</tspan> = 5)</text><path d="M263,115.5 H278" stroke="#173769" stroke-width="1"/><rect x="267.30" y="112.50" width="6" height="6" fill="#173769"/><text x="286" y="119.6" style="font-size:11.2px;fill:#333;white-space:pre;word-spacing:0.75px" xml:space="preserve">30 mg (<tspan font-style="italic">N</tspan> = 3)</text><path d="M263,129.7 H278" stroke="#a81e26" stroke-width="1"/><path d="M266.50,125.90L274.10,133.50M274.10,125.90L266.50,133.50" stroke="#a81e26" stroke-width="1.6" fill="none"/><text x="286" y="133.8" style="font-size:11.2px;fill:#333;white-space:pre;word-spacing:0.75px" xml:space="preserve">45  mg (<tspan font-style="italic">N</tspan> = 5)</text><path d="M647,21.7 H662" stroke="#93196f" stroke-width="1"/><circle cx="654.30" cy="21.70" r="2.75" fill="none" stroke="#93196f" stroke-width="1.4"/><text x="670" y="26" style="font-size:11.2px;fill:#333;white-space:pre;word-spacing:0.75px" xml:space="preserve">0.3 mg (<tspan font-style="italic">N</tspan> = 3)</text><path d="M647,34.4 H662" stroke="#2c6b32" stroke-width="1"/><rect x="651.40" y="31.50" width="5.8" height="5.8" fill="none" stroke="#2c6b32" stroke-width="1.6"/><text x="670" y="38.9" style="font-size:11.2px;fill:#333;white-space:pre;word-spacing:0.75px" xml:space="preserve">0.6 mg (<tspan font-style="italic">N</tspan> = 2)</text><path d="M647,47.3 H662" stroke="#8a6cc0" stroke-width="1"/><path d="M654.30,44.10L657.40,49.70L651.20,49.70Z" fill="#8a6cc0"/><text x="670" y="51.7" style="font-size:11.2px;fill:#333;white-space:pre;word-spacing:0.75px" xml:space="preserve">4.0 mg (<tspan font-style="italic">N</tspan> = 3)</text><path d="M647,62.3 H662" stroke="#e8651c" stroke-width="1"/><path d="M654.30,58.70L657.60,62.30L654.30,65.90L651.00,62.30Z" fill="#e8651c"/><text x="670" y="67" style="font-size:11.2px;fill:#333;white-space:pre;word-spacing:0.75px" xml:space="preserve">7.0 mg (<tspan font-style="italic">N</tspan> = 3)</text><path d="M647,77.3 H662" stroke="#d9a423" stroke-width="1"/><path d="M654.30,74.30L657.40,79.80L651.20,79.80Z" fill="none" stroke="#d9a423" stroke-width="1.5" stroke-linejoin="miter"/><text x="670" y="81.5" style="font-size:11.2px;fill:#333;white-space:pre;word-spacing:0.75px" xml:space="preserve">12 mg (<tspan font-style="italic">N</tspan> = 2)</text><path d="M647,92.3 H662" stroke="#7b8b2a" stroke-width="1"/><circle cx="654.30" cy="92.30" r="3.5" fill="#7b8b2a"/><text x="670" y="96.5" style="font-size:11.2px;fill:#333;white-space:pre;word-spacing:0.75px" xml:space="preserve">20 mg (<tspan font-style="italic">N</tspan> = 3)</text><path d="M647,108.5 H662" stroke="#173769" stroke-width="1"/><rect x="651.30" y="105.50" width="6" height="6" fill="#173769"/><text x="670" y="112.6" style="font-size:11.2px;fill:#333;white-space:pre;word-spacing:0.75px" xml:space="preserve">30 mg (<tspan font-style="italic">N</tspan> = 3)</text><path d="M647,122.69999999999999 H662" stroke="#a81e26" stroke-width="1"/><path d="M650.50,118.90L658.10,126.50M658.10,118.90L650.50,126.50" stroke="#a81e26" stroke-width="1.6" fill="none"/><text x="670" y="126.80000000000001" style="font-size:11.2px;fill:#333;white-space:pre;word-spacing:0.75px" xml:space="preserve">45  mg (<tspan font-style="italic">N</tspan> = 3)</text></svg></body></html>
